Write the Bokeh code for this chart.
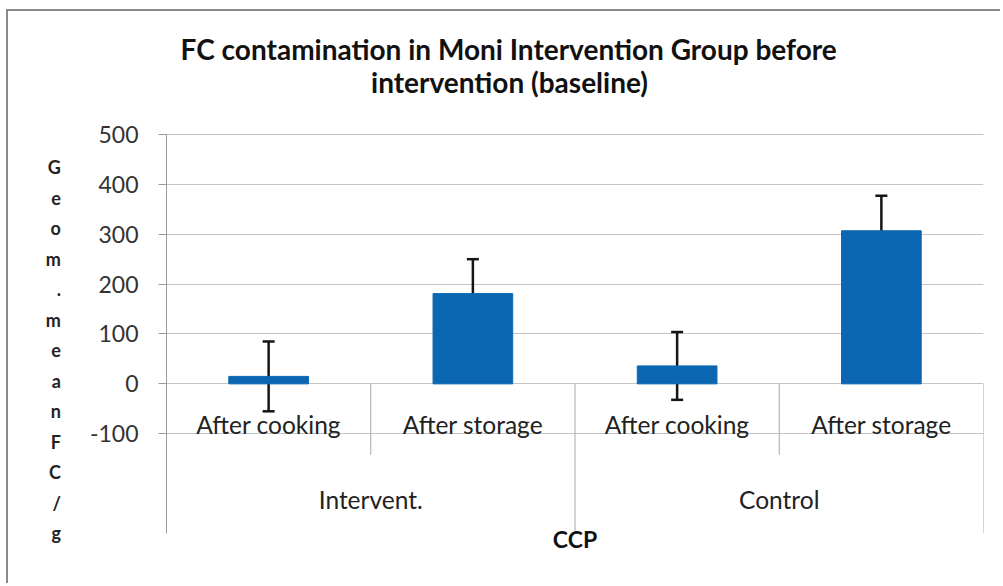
from bokeh.plotting import figure
from bokeh.models import (ColumnDataSource, Range1d, FixedTicker, Whisker, TeeHead, Label)
from bokeh.core.properties import value
from bokeh.embed import file_html
from bokeh.resources import INLINE
import numpy as np

# ---- data ----
groups = ["Intervent.", "Control"]
subcats = ["After cooking", "After storage", "After cooking", "After storage"]
group_of = ["Intervent.", "Intervent.", "Control", "Control"]
geo_means = [15, 181, 36, 307]
errors = [70, 69, 68, 70]
y_ticks = [-100, 0, 100, 200, 300, 400, 500]
title_lines = ["FC contamination  in Moni  Intervention Group before", "intervention (baseline)"]
y_label = "Geom.meanFC/g"
x_label = "CCP"

FONT = "Lato"
BLUE = "#0b67b2"

W, H = 994, 574
TOP_EXTRA = 240.6   # headroom above the value axis for the title
p = figure(width=W, height=H, output_backend="svg", toolbar_location=None,
           x_range=Range1d(0, len(subcats)), y_range=Range1d(-300, 500 + TOP_EXTRA),
           min_border_left=158, min_border_right=19, min_border_top=3, min_border_bottom=52)
p.title.visible = False
p.styles = {"margin-left": "6px", "margin-top": "9px",
            "border-left": "2px solid #8a8a8a", "border-top": "2px solid #8a8a8a"}
p.outline_line_color = None
p.background_fill_color = "white"
p.border_fill_color = "white"

# x axis: only its label
xa = p.xaxis[0]
xa.ticker = FixedTicker(ticks=[])
xa.axis_line_color = None
xa.major_tick_line_color = None
xa.minor_tick_line_color = None
xa.axis_label = x_label
xa.axis_label_text_font = FONT
xa.axis_label_text_font_style = "bold"
xa.axis_label_text_font_size = "23px"
xa.axis_label_text_color = "#111111"
xa.axis_label_standoff = -9
p.xgrid.visible = False

# y axis
ya = p.yaxis[0]
ya.bounds = (-300, 500)
ya.ticker = FixedTicker(ticks=y_ticks)
ya.major_label_overrides = {t: str(t) for t in y_ticks}
ya.minor_tick_line_color = None
ya.major_tick_out = 8
ya.major_tick_in = 0
ya.major_tick_line_color = "#9a9a9a"
ya.axis_line_color = "#9a9a9a"
ya.major_label_standoff = 20
ya.major_label_text_font = FONT
ya.major_label_text_font_size = "23px"
ya.major_label_text_color = "#333333"
ya.axis_label = "\n" * 5 + "\n".join(y_label)
ya.axis_label_orientation = "horizontal"
ya.axis_label_text_font = FONT
ya.axis_label_text_font_style = "bold"
ya.axis_label_text_font_size = "18px"
ya.axis_label_text_line_height = 1.385
ya.axis_label_text_color = "#222222"
ya.axis_label_standoff = 26
ya.axis_label_text_align = "center"
p.ygrid.ticker = FixedTicker(ticks=y_ticks)
p.ygrid.grid_line_color = "#c4c4c4"
p.ygrid.grid_line_width = 1

x = np.arange(len(subcats)) + 0.5
src = ColumnDataSource(dict(x=x, top=geo_means,
                            upper=np.array(geo_means) + np.array(errors),
                            lower=np.array(geo_means) - np.array(errors)))

p.vbar(x="x", top="top", bottom=0, width=0.39, source=src, fill_color=BLUE, line_color=BLUE)
wh = Whisker(source=src, base="x", upper="upper", lower="lower",
             line_color="#151515", line_width=2.5,
             upper_head=TeeHead(size=12, line_color="#151515", line_width=2.5),
             lower_head=TeeHead(size=12, line_color="#151515", line_width=2.5))
p.add_layout(wh)

# category divider lines
n_per_group = [group_of.count(g) for g in groups]
bounds = np.cumsum(n_per_group)
sub_div = [i for i in range(1, len(subcats)) if i not in bounds]
p.segment(x0=sub_div, y0=[0] * len(sub_div), x1=sub_div, y1=[-142] * len(sub_div),
          line_color="#a8a8a8", line_width=1)
p.segment(x0=list(bounds), y0=[0] * len(bounds), x1=list(bounds), y1=[-300] * len(bounds),
          line_color="#a8a8a8", line_width=1)

# category labels
p.text(x=x, y=[-82] * len(subcats), text=subcats, text_font=value(FONT),
       text_font_size="24.5px", text_align="center", text_baseline="middle", text_color="#222222")
gstart = np.concatenate([[0], bounds[:-1]])
gcenter = (gstart + bounds) / 2
p.text(x=gcenter, y=[-232] * len(groups), text=groups, text_font=value(FONT),
       text_font_size="24.5px", text_align="center", text_baseline="middle", text_color="#222222")

# title (screen units relative to the frame's bottom-left corner)
for line, sx, sy in zip(title_lines, [349, 343], [485, 452]):
    p.add_layout(Label(x=sx, y=sy, x_units="screen", y_units="screen", text=line,
                       text_font=FONT, text_font_style="bold", text_font_size="28px",
                       text_align="center", text_baseline="middle", text_color="#111111"))

open("out.html", "w").write(file_html(p, INLINE))
